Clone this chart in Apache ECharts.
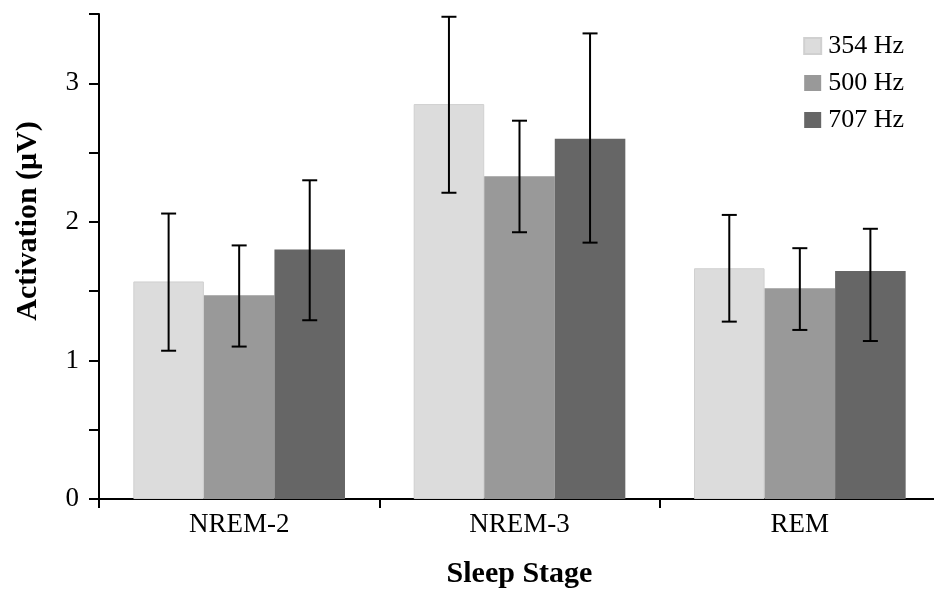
<!DOCTYPE html>
<html><head><meta charset="utf-8">
<script src="https://cdn.jsdelivr.net/npm/echarts@6/dist/echarts.min.js"></script>
<style>html,body{margin:0;padding:0;background:#fff}#c{width:934px;height:590px}</style>
</head><body><div id="c"></div>
<script>
const categories = ['NREM-2', 'NREM-3', 'REM'];
const seriesNames = ['354 Hz', '500 Hz', '707 Hz'];
const means354 = [1.57, 2.85, 1.665];
const means500 = [1.47, 2.33, 1.52];
const means707 = [1.80, 2.60, 1.645];
const err354 = [[1.07, 2.06], [2.21, 3.48], [1.28, 2.05]];
const err500 = [[1.10, 1.83], [1.925, 2.73], [1.22, 1.81]];
const err707 = [[1.29, 2.30], [1.85, 3.36], [1.14, 1.95]];
const yTicks = [0, 1, 2, 3];

const means = [means354, means500, means707];
const errs = [err354, err500, err707];
const colors = ['#dcdcdc', '#999999', '#666666'];
const gapPct = 0.245;
const font = 'Liberation Serif, Times New Roman, serif';

const chart = echarts.init(document.getElementById('c'));
const series = [];
seriesNames.forEach((n, i) => {
  series.push({
    name: n, type: 'bar', data: means[i],
    barGap: 0, barCategoryGap: (gapPct * 100) + '%',
    itemStyle: { color: colors[i], borderColor: i === 0 ? '#d0d0d0' : colors[i], borderWidth: i === 0 ? 1 : 0 },
    z: 2
  });
});
seriesNames.forEach((n, i) => {
  series.push({
    type: 'custom', silent: true, z: 5,
    data: errs[i].map((e, k) => [k, e[0], e[1]]),
    renderItem: function (params, api) {
      const catW = api.size([1, 0])[0];
      const bw = catW * (1 - gapPct) / 3;
      const lo = api.coord([api.value(0), api.value(1)]);
      const hi = api.coord([api.value(0), api.value(2)]);
      const x = lo[0] + (i - 1) * bw;
      const cap = 7.5;
      const st = { stroke: '#000', lineWidth: 2 };
      return { type: 'group', children: [
        { type: 'line', shape: { x1: x, y1: lo[1], x2: x, y2: hi[1] }, style: st },
        { type: 'line', shape: { x1: x - cap, y1: hi[1], x2: x + cap, y2: hi[1] }, style: st },
        { type: 'line', shape: { x1: x - cap, y1: lo[1], x2: x + cap, y2: lo[1] }, style: st }
      ]};
    },
    encode: { x: 0, y: [1, 2] }
  });
});

chart.setOption({
  animation: false,
  textStyle: { fontFamily: font },
  legend: {
    data: seriesNames, orient: 'vertical', right: 25, top: 28,
    icon: 'rect', itemWidth: 17, itemHeight: 16, itemGap: 11,
    textStyle: { fontFamily: font, fontSize: 26, color: '#000', padding: [0, 0, 0, 2] }
  },
  graphic: [{
    type: 'text', x: 28, y: 221, rotation: Math.PI / 2,
    style: { text: 'Activation (\u03bcV)', font: 'bold 30px ' + font, fill: '#000',
      textAlign: 'center', textVerticalAlign: 'middle' }
  }],
  grid: { left: 99, width: 841, top: 14, bottom: 91, containLabel: false, outerBoundsMode: 'none' },
  xAxis: {
    type: 'category', data: categories,
    name: 'Sleep Stage', nameLocation: 'middle', nameGap: 60,
    nameTextStyle: { fontFamily: font, fontSize: 30, fontWeight: 'bold', color: '#000' },
    axisLine: { lineStyle: { color: '#000', width: 2 } },
    axisTick: { show: true, length: 9, lineStyle: { color: '#000', width: 2 } },
    axisLabel: { fontFamily: font, fontSize: 27, color: '#000', margin: 12 },
    splitLine: { show: false }
  },
  yAxis: {
    type: 'value', min: 0, max: 3.5, interval: 0.5,
    axisLine: { show: true, lineStyle: { color: '#000', width: 2 } },
    axisTick: { show: true, length: 10, lineStyle: { color: '#000', width: 2 } },
    axisLabel: { fontFamily: font, fontSize: 27, color: '#000', margin: 20,
      formatter: v => yTicks.includes(v) ? String(v) : '' },
    splitLine: { show: false }
  },
  series: series
});
</script></body></html>
